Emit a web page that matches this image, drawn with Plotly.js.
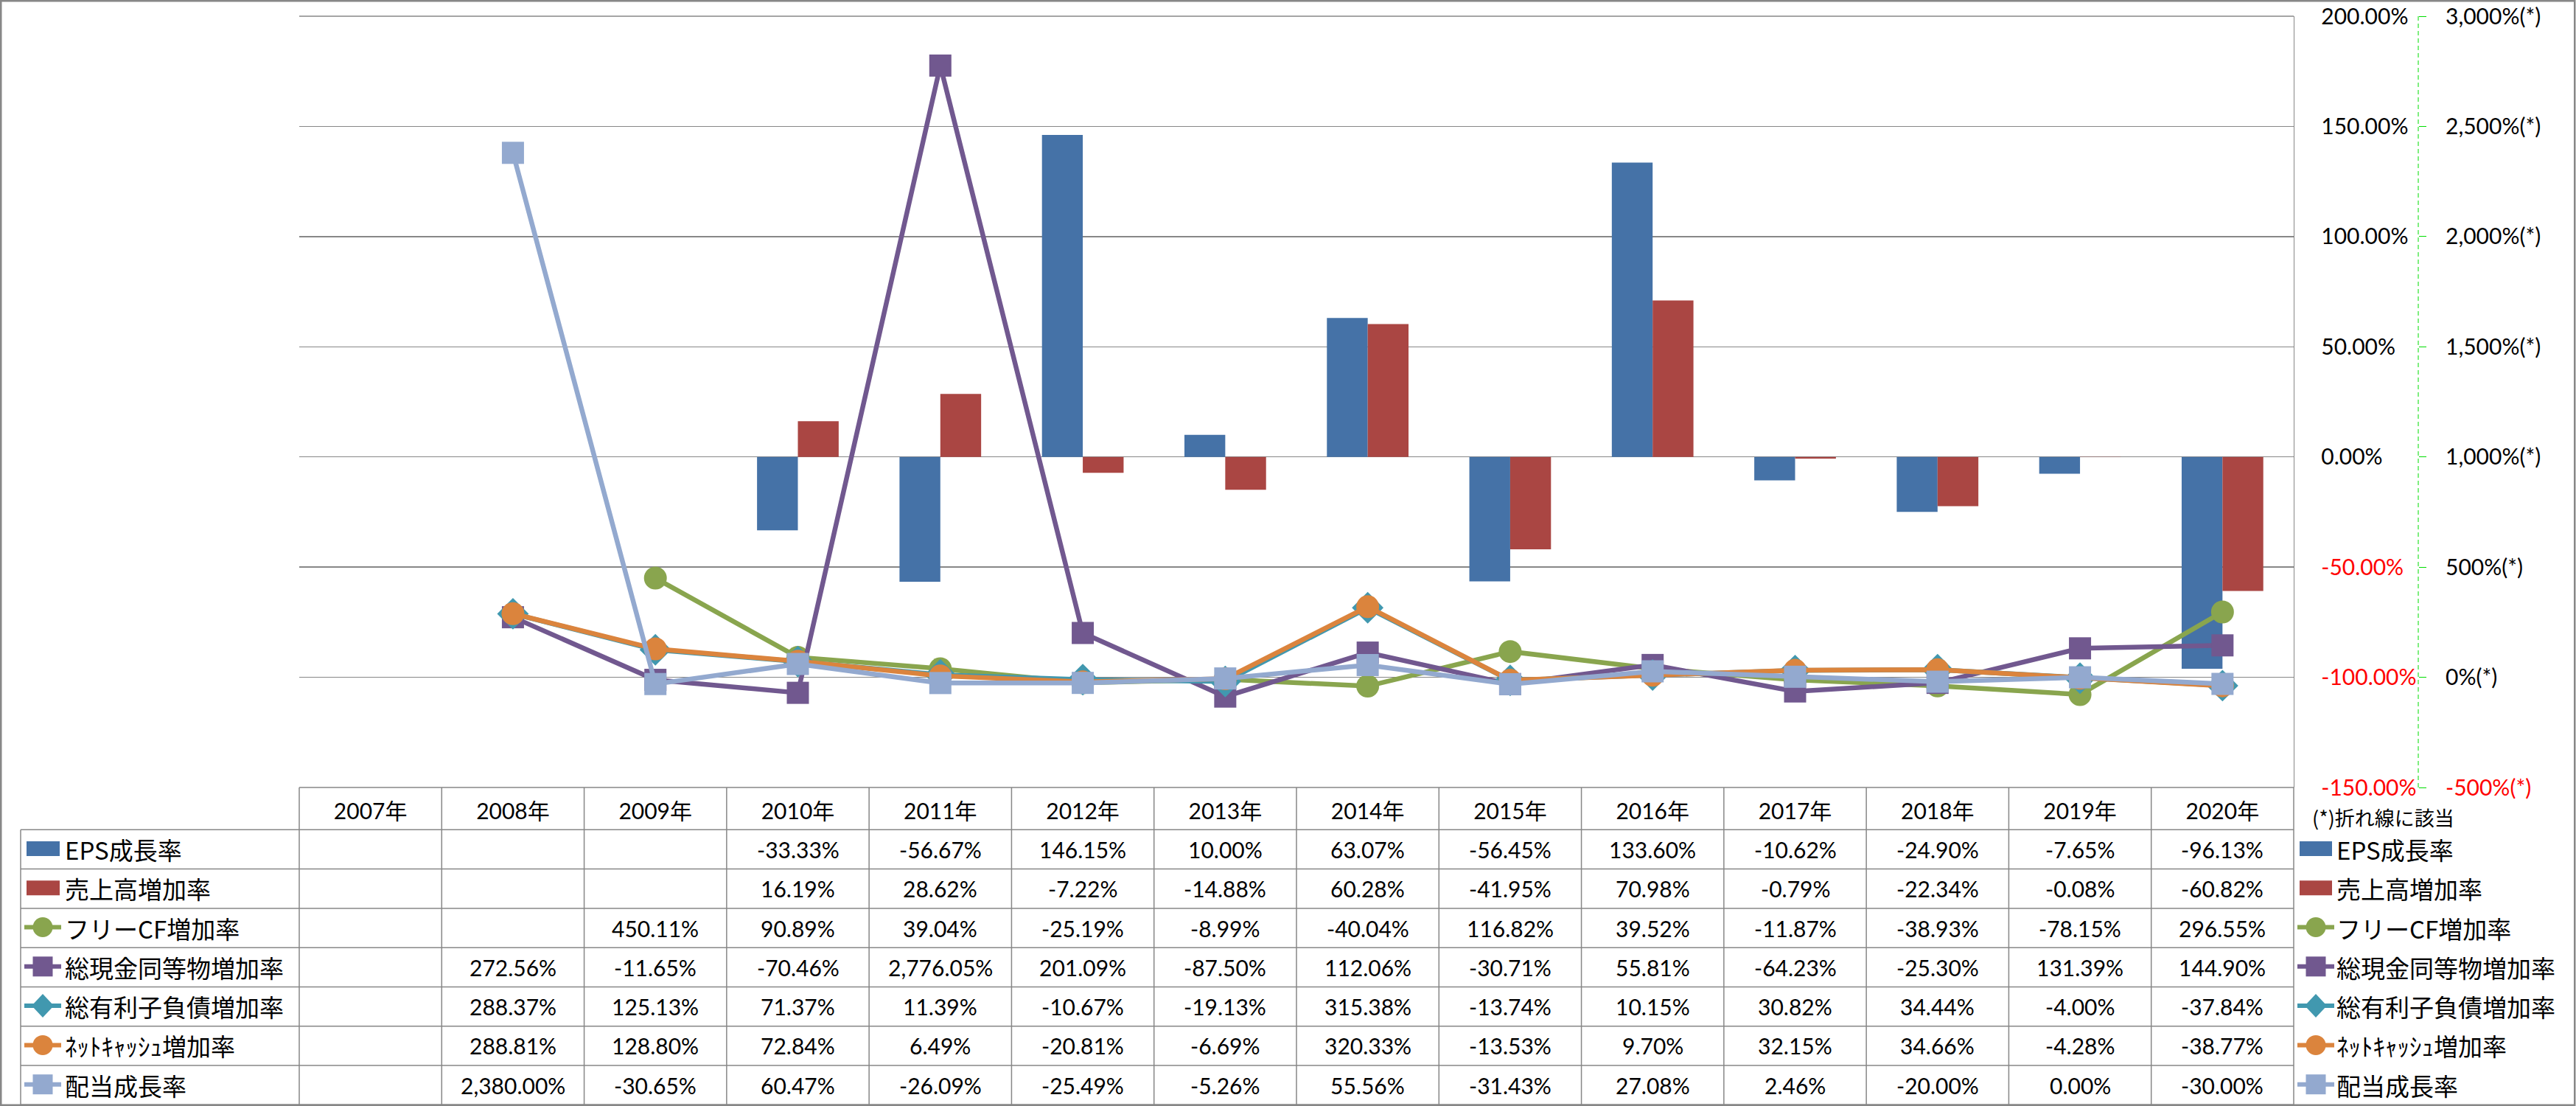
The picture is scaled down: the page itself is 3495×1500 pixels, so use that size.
<!DOCTYPE html>
<html>
<head>
<meta charset="utf-8">
<script src="https://cdn.plot.ly/plotly-3.0.1.min.js"></script>
<style>
html, body { margin: 0; padding: 0; background: #ffffff; }
#chart { width: 3495px; height: 1500px; }
</style>
</head>
<body>
<div id="chart"></div>
<script>
// ---------------- DATA ----------------
const years = ['2007年','2008年','2009年','2010年','2011年','2012年','2013年','2014年','2015年','2016年','2017年','2018年','2019年','2020年'];
const epsGrowth      = [null, null, null, -33.33, -56.67, 146.15, 10.00, 63.07, -56.45, 133.60, -10.62, -24.90, -7.65, -96.13];
const salesGrowth    = [null, null, null, 16.19, 28.62, -7.22, -14.88, 60.28, -41.95, 70.98, -0.79, -22.34, -0.08, -60.82];
const freeCfGrowth   = [null, null, 450.11, 90.89, 39.04, -25.19, -8.99, -40.04, 116.82, 39.52, -11.87, -38.93, -78.15, 296.55];
const cashGrowth     = [null, 272.56, -11.65, -70.46, 2776.05, 201.09, -87.50, 112.06, -30.71, 55.81, -64.23, -25.30, 131.39, 144.90];
const debtGrowth     = [null, 288.37, 125.13, 71.37, 11.39, -10.67, -19.13, 315.38, -13.74, 10.15, 30.82, 34.44, -4.00, -37.84];
const netCashGrowth  = [null, 288.81, 128.80, 72.84, 6.49, -20.81, -6.69, 320.33, -13.53, 9.70, 32.15, 34.66, -4.28, -38.77];
const dividendGrowth = [null, 2380.00, -30.65, 60.47, -26.09, -25.49, -5.26, 55.56, -31.43, 27.08, 2.46, -20.00, 0.00, -30.00];
const seriesNames = ['EPS成長率','売上高増加率','フリーCF増加率','総現金同等物増加率','総有利子負債増加率','ﾈｯﾄｷｬｯｼｭ増加率','配当成長率'];
const leftTickVals  = [-150, -100, -50, 0, 50, 100, 150, 200];
const leftTickText  = ['-150.00%','-100.00%','-50.00%','0.00%','50.00%','100.00%','150.00%','200.00%'];
const rightTickVals = [-500, 0, 500, 1000, 1500, 2000, 2500, 3000];
const rightTickText = ['-500%(*)','0%(*)','500%(*)','1,000%(*)','1,500%(*)','2,000%(*)','2,500%(*)','3,000%(*)'];
const footnote = '(*)折れ線に該当';

// ---------------- STYLE ----------------
const colors  = ['#4572A7','#AA4643','#89A54E','#71588F','#4198AF','#DB843D','#93A9CF'];
const kinds   = ['bar','bar','circle','square','diamond','circle','square'];
const W = 3495, H = 1500;
const ML = 406, MR = 214, MT = 22, MB = 432;
const PW = W - ML - MR, PH = H - MT - MB;
const TABLE_RIGHT = 3112;
const X_END = (TABLE_RIGHT - ML) / PW;
const px = v => (v - ML) / PW;
const py = v => (H - MB - v) / PH;
const FONT_NUM = 'Lato, "Noto Sans CJK JP", sans-serif';
const FONT_JP  = '"Noto Sans CJK JP", sans-serif';
const GRID = '#878787';
const RED = '#FF0000';

const fmt = v => v.toLocaleString('en-US', {minimumFractionDigits: 2, maximumFractionDigits: 2}) + '%';
const colorTick = (t, v) => v < 0 ? '<span style="color:' + RED + '">' + t + '</span>' : t;

// ---------------- TRACES ----------------
const allSeries = [epsGrowth, salesGrowth, freeCfGrowth, cashGrowth, debtGrowth, netCashGrowth, dividendGrowth];
const traces = [];
allSeries.forEach((arr, k) => {
  if (kinds[k] === 'bar') {
    traces.push({type: 'bar', x: years, y: arr, name: seriesNames[k], xaxis: 'x', yaxis: 'y',
                 marker: {color: colors[k], line: {width: 0}}});
  } else {
    const size = kinds[k] === 'diamond' ? 33 : (kinds[k] === 'square' ? 30 : 31);
    traces.push({type: 'scatter', mode: 'lines+markers', x: years, y: arr, name: seriesNames[k],
                 xaxis: 'x', yaxis: 'y2', cliponaxis: false,
                 line: {color: colors[k], width: 6.5},
                 marker: {symbol: kinds[k], size: size, color: colors[k], line: {width: 0}}});
  }
});

// ---------------- TABLE / LEGEND DECORATION ----------------
const shapes = [];
const annotations = [];
const HEADER_TOP = H - MB, HEADER_BOTTOM = 1125.3, ROW_H = 53.29;
const TABLE_BOTTOM = HEADER_BOTTOM + 7 * ROW_H;
const TABLE_LEFT = 28;

function hline(x0, x1, y, w, c) {
  shapes.push({type: 'line', xref: 'paper', yref: 'paper', x0: px(x0), x1: px(x1), y0: py(y), y1: py(y),
               line: {color: c || GRID, width: w || 1.5}});
}
function vline(x, y0, y1, w, c) {
  shapes.push({type: 'line', xref: 'paper', yref: 'paper', x0: px(x), x1: px(x), y0: py(y0), y1: py(y1),
               line: {color: c || GRID, width: w || 1.5}});
}

// outer chart border
shapes.push({type: 'rect', xref: 'paper', yref: 'paper', x0: px(1.25), x1: px(W - 1.75), y0: py(1.25), y1: py(H - 1.25),
             line: {color: GRID, width: 2.5}, fillcolor: 'rgba(0,0,0,0)'});

// top gridline of the plot area (200%)
shapes.push({type: 'line', xref: 'paper', yref: 'paper', x0: 0, x1: X_END, y0: 1, y1: 1,
             line: {color: GRID, width: 1.3}, layer: 'below'});

// table grid
hline(ML, TABLE_RIGHT, HEADER_TOP);
for (let r = 0; r <= 7; r++) hline(TABLE_LEFT, TABLE_RIGHT, HEADER_BOTTOM + r * ROW_H);
vline(TABLE_LEFT, HEADER_BOTTOM, TABLE_BOTTOM);
vline(ML, HEADER_TOP, TABLE_BOTTOM);
for (let i = 0; i < years.length - 1; i++) {
  shapes.push({type: 'line', xref: 'x', yref: 'paper', x0: i + 0.5, x1: i + 0.5, y0: py(HEADER_TOP), y1: py(TABLE_BOTTOM),
               line: {color: GRID, width: 1.5}});
}
vline(TABLE_RIGHT, HEADER_TOP, TABLE_BOTTOM);

// secondary axis dashed line
shapes.push({type: 'line', xref: 'paper', yref: 'paper', x0: 1, x1: 1, y0: 0, y1: 1,
             line: {color: '#00DD00', width: 1, dash: '6px,4px'}});

function legendKey(k, lineX0, cx, rectX0, rectX1, cy) {
  const c = colors[k];
  if (kinds[k] === 'bar') {
    shapes.push({type: 'rect', xref: 'paper', yref: 'paper', x0: px(rectX0), x1: px(rectX1),
                 y0: py(cy - 11), y1: py(cy + 9), fillcolor: c, line: {width: 0}});
    return;
  }
  shapes.push({type: 'line', xref: 'paper', yref: 'paper', x0: px(lineX0), x1: px(lineX0 + 50),
               y0: py(cy - 1), y1: py(cy - 1), line: {color: c, width: 6}});
  const r = 13.5;
  if (kinds[k] === 'circle') {
    shapes.push({type: 'circle', xref: 'paper', yref: 'paper', x0: px(cx - r), x1: px(cx + r),
                 y0: py(cy - 1 - r), y1: py(cy - 1 + r), fillcolor: c, line: {width: 0}});
  } else if (kinds[k] === 'square') {
    shapes.push({type: 'rect', xref: 'paper', yref: 'paper', x0: px(cx - r), x1: px(cx + r),
                 y0: py(cy - 1 - r), y1: py(cy - 1 + r), fillcolor: c, line: {width: 0}});
  } else {
    const p = 'M' + px(cx) + ',' + py(cy - 17) + ' L' + px(cx + 15) + ',' + py(cy - 1) +
              ' L' + px(cx) + ',' + py(cy + 15) + ' L' + px(cx - 15) + ',' + py(cy - 1) + ' Z';
    shapes.push({type: 'path', xref: 'paper', yref: 'paper', path: p, fillcolor: c, line: {width: 0}});
  }
}

allSeries.forEach((arr, k) => {
  const cyPx = HEADER_BOTTOM + (k + 0.5) * ROW_H;
  const yc = py(cyPx);
  // values
  arr.forEach((v, i) => {
    if (v === null) return;
    annotations.push({xref: 'x', yref: 'paper', x: years[i], y: yc, text: fmt(v), showarrow: false,
                      xanchor: 'center', yanchor: 'middle', font: {family: FONT_NUM, size: 30, color: '#000'}});
  });
  // left row label + key
  legendKey(k, 33, 58, 36, 81, cyPx);
  annotations.push({xref: 'paper', yref: 'paper', x: px(86), y: yc, text: seriesNames[k], showarrow: false,
                    xanchor: 'left', yanchor: 'middle', font: {family: FONT_JP, size: 33, color: '#000'}});
  // right legend
  legendKey(k, 3117, 3142, 3120, 3164, cyPx);
  annotations.push({xref: 'paper', yref: 'paper', x: px(3168), y: yc, text: seriesNames[k], showarrow: false,
                    xanchor: 'left', yanchor: 'middle', font: {family: FONT_JP, size: 33, color: '#000'}});
});

annotations.push({xref: 'paper', yref: 'paper', x: px(3135), y: py(1108), text: footnote, showarrow: false,
                  xanchor: 'left', yanchor: 'middle', font: {family: FONT_JP, size: 27, color: '#000'}});

// ---------------- LAYOUT ----------------
const layout = {
  width: W, height: H,
  margin: {l: ML, r: MR, t: MT, b: MB, pad: 0},
  paper_bgcolor: '#ffffff', plot_bgcolor: '#ffffff',
  showlegend: false,
  barmode: 'group', bargap: 0.427, bargroupgap: 0,
  font: {family: FONT_NUM, size: 30, color: '#000'},
  xaxis: {type: 'category', domain: [0, X_END], range: [-0.5, years.length - 0.5],
          showgrid: false, zeroline: false, showline: false, ticks: '',
          tickfont: {family: FONT_NUM, size: 30, color: '#000'}, ticklabelstandoff: 12, fixedrange: true},
  yaxis: {range: [-150, 200], side: 'right', anchor: 'x',
          tickmode: 'array', tickvals: leftTickVals, ticktext: leftTickText.map((t, i) => colorTick(t, leftTickVals[i])),
          showgrid: true, gridcolor: GRID, gridwidth: 1.3, zeroline: false,
          showline: true, linecolor: GRID, linewidth: 1.3, ticks: '',
          tickfont: {family: FONT_NUM, size: 30, color: '#000'}, ticklabelstandoff: 30, fixedrange: true},
  yaxis2: {range: [-500, 3000], overlaying: 'y', side: 'right', anchor: 'free', position: 1,
           tickmode: 'array', tickvals: rightTickVals, ticktext: rightTickText.map((t, i) => colorTick(t, rightTickVals[i])),
           showgrid: false, zeroline: false, showline: false,
           ticks: 'outside', ticklen: 10, tickwidth: 1, tickcolor: '#00DD00',
           tickfont: {family: FONT_NUM, size: 30, color: '#000'}, ticklabelstandoff: 20, fixedrange: true},
  shapes: shapes,
  annotations: annotations
};

Plotly.newPlot('chart', traces, layout, {displayModeBar: false, staticPlot: true});
</script>
</body>
</html>
